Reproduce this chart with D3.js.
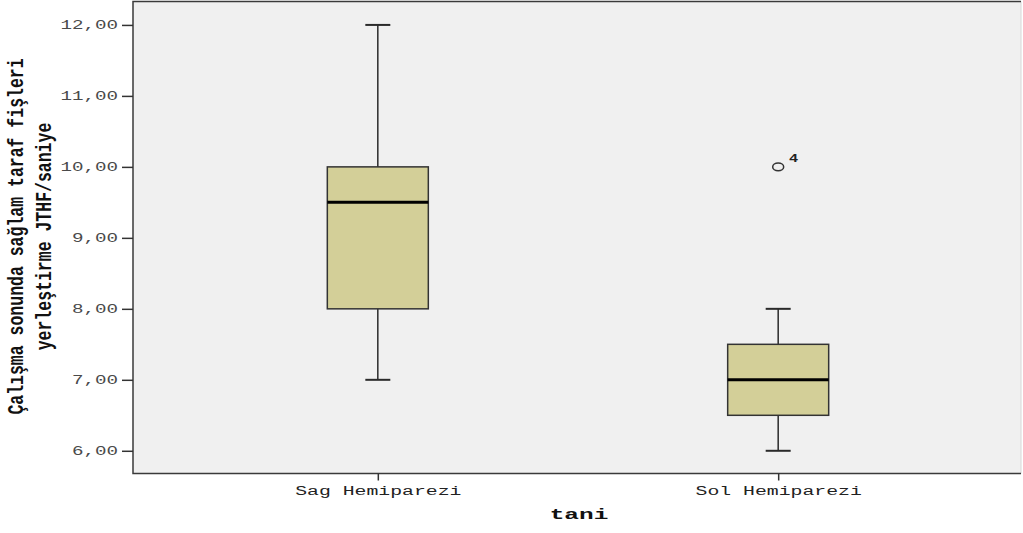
<!DOCTYPE html>
<html>
<head>
<meta charset="utf-8">
<script src="https://cdn.jsdelivr.net/npm/d3@7"></script>
<style>
  body { margin: 0; background: #ffffff; }
  svg { display: block; }
</style>
</head>
<body id="body">
<script>
// kutu grafigi verileri
var groups = ["Sag Hemiparezi", "Sol Hemiparezi"];
var mins = [7, 6];
var q1s = [8, 6.5];
var medians = [9.5, 7];
var q3s = [10, 7.5];
var maxs = [12, 8];

var outlierGroups = ["Sol Hemiparezi"];
var outlierValues = [10];
var outlierLabels = ["4"];

var yTicks = [6, 7, 8, 9, 10, 11, 12];

function RenderBox() {
    var width = 1023,
        height = 533;
    var left = 133, right = 1021, top = 1.5, bottom = 473.5;
    var boxWidth = 101, capWidth = 25;

    var svg = d3.select("body").append("svg")
        .attr("width", width)
        .attr("height", height);

    var x = d3.scalePoint()
        .domain(groups)
        .range([left + 1, right + 1])
        .padding(0.609);

    var y = d3.scaleLinear()
        .domain([5.68, 12.33])
        .range([bottom, top]);

    // plot alani
    svg.append("rect")
        .attr("x", left)
        .attr("y", top)
        .attr("width", right - left)
        .attr("height", bottom - top)
        .attr("fill", "#f0f0f0");
    svg.append("line")
        .attr("x1", right).attr("x2", right).attr("y1", top).attr("y2", bottom)
        .attr("stroke", "#d8d8d8").attr("stroke-width", 1);
    svg.append("path")
        .attr("d", "M" + right + "," + top + "H" + left + "V" + bottom + "H" + right)
        .attr("fill", "none")
        .attr("stroke", "#3a3a3a")
        .attr("stroke-width", 1.5);

    var fmt = function (d) { return d3.format(".2f")(d).replace(".", ","); };

    // y ekseni
    var yAxis = svg.append("g")
        .attr("transform", "translate(" + left + ",0)")
        .call(d3.axisLeft(y).tickValues(yTicks).tickSize(11).tickSizeOuter(0).tickFormat(fmt));
    yAxis.select(".domain").remove();
    yAxis.selectAll(".tick line").attr("stroke", "#333").attr("stroke-width", 1.5);
    yAxis.selectAll(".tick text")
        .attr("x", 0).attr("dy", null)
        .attr("font-family", "Liberation Mono")
        .attr("font-size", 12)
        .attr("fill", "#4a4a4a")
        .attr("text-anchor", "end")
        .attr("transform", "translate(-15,4) scale(1.6,1)");

    // x ekseni
    var xAxis = svg.append("g")
        .attr("transform", "translate(0," + bottom + ")")
        .call(d3.axisBottom(x).tickSize(7).tickSizeOuter(0));
    xAxis.select(".domain").remove();
    xAxis.selectAll(".tick line").attr("stroke", "#333").attr("stroke-width", 1.5);
    xAxis.selectAll(".tick text")
        .attr("y", 0).attr("dy", null)
        .attr("font-family", "Liberation Mono")
        .attr("font-size", 12)
        .attr("fill", "#222")
        .attr("text-anchor", "middle")
        .attr("transform", "translate(0,21) scale(1.65,1)");

    // kutular
    var rows = groups.map(function (g, i) {
        return { g: g, min: mins[i], q1: q1s[i], med: medians[i], q3: q3s[i], max: maxs[i] };
    });

    var box = svg.selectAll(".box")
        .data(rows)
        .enter().append("g")
        .attr("class", "box");

    box.append("line")
        .attr("x1", function (d) { return x(d.g); })
        .attr("x2", function (d) { return x(d.g); })
        .attr("y1", function (d) { return y(d.max); })
        .attr("y2", function (d) { return y(d.q3); })
        .attr("stroke", "#2a2a2a").attr("stroke-width", 1.5);
    box.append("line")
        .attr("x1", function (d) { return x(d.g); })
        .attr("x2", function (d) { return x(d.g); })
        .attr("y1", function (d) { return y(d.q1); })
        .attr("y2", function (d) { return y(d.min); })
        .attr("stroke", "#2a2a2a").attr("stroke-width", 1.5);
    box.append("line")
        .attr("x1", function (d) { return x(d.g) - capWidth / 2; })
        .attr("x2", function (d) { return x(d.g) + capWidth / 2; })
        .attr("y1", function (d) { return y(d.max); })
        .attr("y2", function (d) { return y(d.max); })
        .attr("stroke", "#2a2a2a").attr("stroke-width", 2);
    box.append("line")
        .attr("x1", function (d) { return x(d.g) - capWidth / 2; })
        .attr("x2", function (d) { return x(d.g) + capWidth / 2; })
        .attr("y1", function (d) { return y(d.min); })
        .attr("y2", function (d) { return y(d.min); })
        .attr("stroke", "#2a2a2a").attr("stroke-width", 2);
    box.append("rect")
        .attr("x", function (d) { return x(d.g) - boxWidth / 2; })
        .attr("y", function (d) { return y(d.q3); })
        .attr("width", boxWidth)
        .attr("height", function (d) { return y(d.q1) - y(d.q3); })
        .attr("fill", "#d3cf98")
        .attr("stroke", "#333").attr("stroke-width", 1.5);
    box.append("line")
        .attr("x1", function (d) { return x(d.g) - boxWidth / 2; })
        .attr("x2", function (d) { return x(d.g) + boxWidth / 2; })
        .attr("y1", function (d) { return y(d.med); })
        .attr("y2", function (d) { return y(d.med); })
        .attr("stroke", "#000").attr("stroke-width", 3);

    // aykiri degerler
    var out = svg.selectAll(".outlier")
        .data(outlierValues)
        .enter().append("g")
        .attr("class", "outlier");
    out.append("ellipse")
        .attr("cx", function (d, i) { return x(outlierGroups[i]); })
        .attr("cy", function (d) { return y(d); })
        .attr("rx", 5.5).attr("ry", 3.8)
        .attr("fill", "none")
        .attr("stroke", "#333").attr("stroke-width", 1.5);
    out.append("text")
        .attr("transform", function (d, i) {
            return "translate(" + (x(outlierGroups[i]) + 11) + "," + (y(d) - 5) + ") scale(1.4,1)";
        })
        .attr("font-family", "Liberation Sans")
        .attr("font-weight", "bold")
        .attr("font-size", 11)
        .attr("fill", "#222")
        .text(function (d, i) { return outlierLabels[i]; });

    // eksen basliklari
    svg.append("text")
        .attr("transform", "translate(" + ((left + right) / 2 + 2) + ",519) scale(1.75,1)")
        .attr("text-anchor", "middle")
        .attr("font-family", "Liberation Mono")
        .attr("font-weight", "bold")
        .attr("font-size", 14)
        .attr("fill", "#111")
        .text("tani");

    var midY = 236.5;
    svg.append("text")
        .attr("transform", "translate(23," + midY + ") rotate(-90) scale(1,1.3)")
        .attr("text-anchor", "middle")
        .attr("font-family", "Liberation Mono")
        .attr("font-weight", "bold")
        .attr("font-size", 16.5)
        .attr("fill", "#111")
        .text("Çalışma sonunda sağlam taraf fişleri");
    svg.append("text")
        .attr("transform", "translate(51," + midY + ") rotate(-90) scale(1,1.3)")
        .attr("text-anchor", "middle")
        .attr("font-family", "Liberation Mono")
        .attr("font-weight", "bold")
        .attr("font-size", 16.5)
        .attr("fill", "#111")
        .text("yerleştirme JTHF/saniye");
}

RenderBox();
</script>
</body>
</html>
